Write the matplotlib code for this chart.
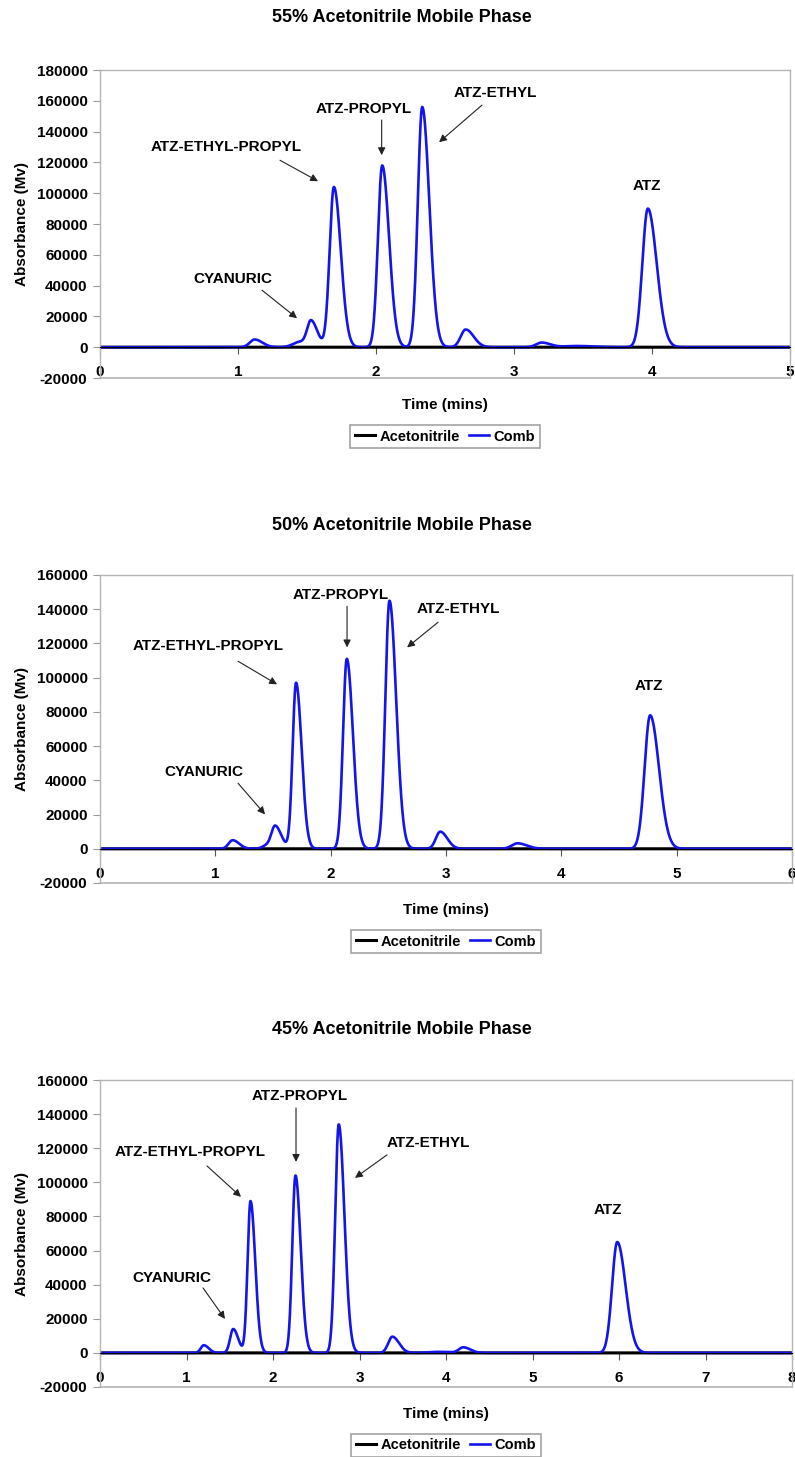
import numpy as np
import matplotlib
matplotlib.use("Agg")
import matplotlib.pyplot as plt

# peak tables: retention time (min), height (Mv), sigma (min)
phase_titles = ["55% Acetonitrile Mobile Phase",
                "50% Acetonitrile Mobile Phase",
                "45% Acetonitrile Mobile Phase"]
x_max = [5, 6, 8]
y_max = [180000, 160000, 160000]

times_55 = [1.12, 1.45, 1.53, 1.695, 2.045, 2.335, 2.65, 3.20, 3.45, 3.97]
heights_55 = [5000, 3500, 15500, 104000, 118000, 156000, 11500, 3000, 800, 90000]
sigmas_55 = [0.035, 0.05, 0.028, 0.031, 0.031, 0.032, 0.036, 0.04, 0.08, 0.040]

times_50 = [1.15, 1.45, 1.52, 1.70, 2.14, 2.51, 2.95, 3.62, 4.77]
heights_50 = [5000, 2000, 12500, 97000, 111000, 145000, 10000, 3200, 78000]
sigmas_50 = [0.035, 0.04, 0.033, 0.030, 0.033, 0.036, 0.038, 0.05, 0.048]

times_45 = [1.20, 1.54, 1.74, 2.26, 2.76, 3.38, 3.90, 4.20, 5.98]
heights_45 = [4500, 14000, 89000, 104000, 134000, 9500, 600, 3200, 65000]
sigmas_45 = [0.035, 0.036, 0.034, 0.037, 0.041, 0.048, 0.1, 0.05, 0.060]

# blank run sits on the baseline
acetonitrile_level = 0.0

peak_names = ["ATZ-ETHYL-PROPYL", "CYANURIC", "ATZ-PROPYL", "ATZ-ETHYL", "ATZ"]

TAIL = 1.6  # right-hand broadening of each peak

# label position and arrow (tail, head) per panel, in data units
label_layout = [
    {
        "ATZ-ETHYL-PROPYL": ((0.913, 129900), ((1.304, 121400), (1.580, 107800))),
        "CYANURIC": ((0.964, 44200), ((1.174, 37000), (1.428, 18800))),
        "ATZ-PROPYL": ((1.913, 154600), ((2.041, 147500), (2.041, 124700))),
        "ATZ-ETHYL": ((2.862, 164900), ((2.768, 157200), (2.457, 133100))),
        "ATZ": ((3.964, 104600), None),
    },
    {
        "ATZ-ETHYL-PROPYL": ((0.937, 118300), ((1.197, 109600), (1.535, 96100))),
        "CYANURIC": ((0.902, 44700), ((1.197, 38300), (1.431, 20100))),
        "ATZ-PROPYL": ((2.090, 148100), ((2.142, 141700), (2.142, 117700))),
        "ATZ-ETHYL": ((3.105, 140000), ((2.931, 132400), (2.663, 117700))),
        "ATZ": ((4.761, 94900), None),
    },
    {
        "ATZ-ETHYL-PROPYL": ((1.040, 117800), ((1.237, 109600), (1.630, 91500))),
        "CYANURIC": ((0.832, 44000), ((1.191, 38100), (1.445, 19900))),
        "ATZ-PROPYL": ((2.312, 150700), ((2.266, 143600), (2.266, 112000))),
        "ATZ-ETHYL": ((3.792, 123100), ((3.318, 116100), (2.948, 102600))),
        "ATZ": ((5.873, 83800), None),
    },
]

# axes boxes in pixels (left, top, right, bottom) and title y
panel_px = [(100, 70, 790, 378, 18),
            (100, 575, 792, 883, 525),
            (100, 1080, 792, 1387, 1030)]

W, H = 795, 1457


def trace(t, times, heights, sigmas):
    y = np.zeros_like(t)
    for t0, h, s in zip(times, heights, sigmas):
        sd = np.where(t < t0, s, s * TAIL)
        y += h * np.exp(-0.5 * ((t - t0) / sd) ** 2)
    return y


def draw_panel(fig, i, times, heights, sigmas):
    left, top, right, bottom, title_y = panel_px[i]
    ax = fig.add_axes([left / W, 1 - bottom / H, (right - left) / W, (bottom - top) / H])

    t = np.linspace(0, x_max[i], 3000)
    ax.plot(t, np.full_like(t, acetonitrile_level), color="black", lw=2.2, label="Acetonitrile")
    ax.plot(t, trace(t, times, heights, sigmas), color="#1414ee", lw=1.9, label="Comb")

    ax.set_xlim(0, x_max[i])
    ax.set_ylim(-20000, y_max[i])
    ax.set_yticks(np.arange(-20000, y_max[i] + 1, 20000))
    ax.set_yticklabels([str(v) for v in np.arange(-20000, y_max[i] + 1, 20000)])
    ax.set_xticks(range(0, x_max[i] + 1))

    # the time axis crosses at zero, the plot area keeps its grey frame
    for side in ["left", "right", "top"]:
        ax.spines[side].set_color("#b4b4b4")
        ax.spines[side].set_linewidth(1.0)
    ax.spines["bottom"].set_position(("data", 0))
    ax.spines["bottom"].set_color("black")
    ax.axhline(-20000, color="#b4b4b4", lw=1.2, clip_on=False)
    ax.tick_params(axis="x", direction="out", length=5, pad=8, labelsize=11, color="#555555")
    ax.tick_params(axis="y", direction="out", length=5, pad=4, labelsize=11, color="#999999")

    ax.text(-0.113, 0.5, "Absorbance (Mv)", transform=ax.transAxes, rotation=90,
            ha="center", va="center", fontsize=11)
    ax.text(0.5, -0.088, "Time (mins)", transform=ax.transAxes,
            ha="center", va="center", fontsize=11)
    fig.text(402 / W, 1 - title_y / H, phase_titles[i], ha="center", va="center", fontsize=13)

    for name in peak_names:
        pos, arrow = label_layout[i][name]
        ax.text(pos[0], pos[1], name, ha="center", va="center", fontsize=11)
        if arrow is not None:
            ax.annotate("", xy=arrow[1], xytext=arrow[0],
                        arrowprops=dict(arrowstyle="-|>", color="#222222", lw=0.8,
                                        mutation_scale=11, shrinkA=0, shrinkB=0))

    leg = ax.legend(loc="center", bbox_to_anchor=(0.5, -0.19),
                    ncol=2, frameon=True, fancybox=False, fontsize=10.5, handlelength=1.4,
                    handletextpad=0.3, columnspacing=0.6, borderpad=0.3, borderaxespad=0)
    leg.get_frame().set_edgecolor("#8c8c8c")
    leg.get_frame().set_linewidth(1.2)
    return ax


def main():
    plt.rcParams["font.family"] = ["Liberation Sans", "DejaVu Sans"]
    plt.rcParams["font.weight"] = "bold"
    fig = plt.figure(figsize=(W / 100, H / 100), dpi=100)

    draw_panel(fig, 0, times_55, heights_55, sigmas_55)
    draw_panel(fig, 1, times_50, heights_50, sigmas_50)
    draw_panel(fig, 2, times_45, heights_45, sigmas_45)

    fig.savefig("out.png", dpi=100)


if __name__ == "__main__":
    main()
